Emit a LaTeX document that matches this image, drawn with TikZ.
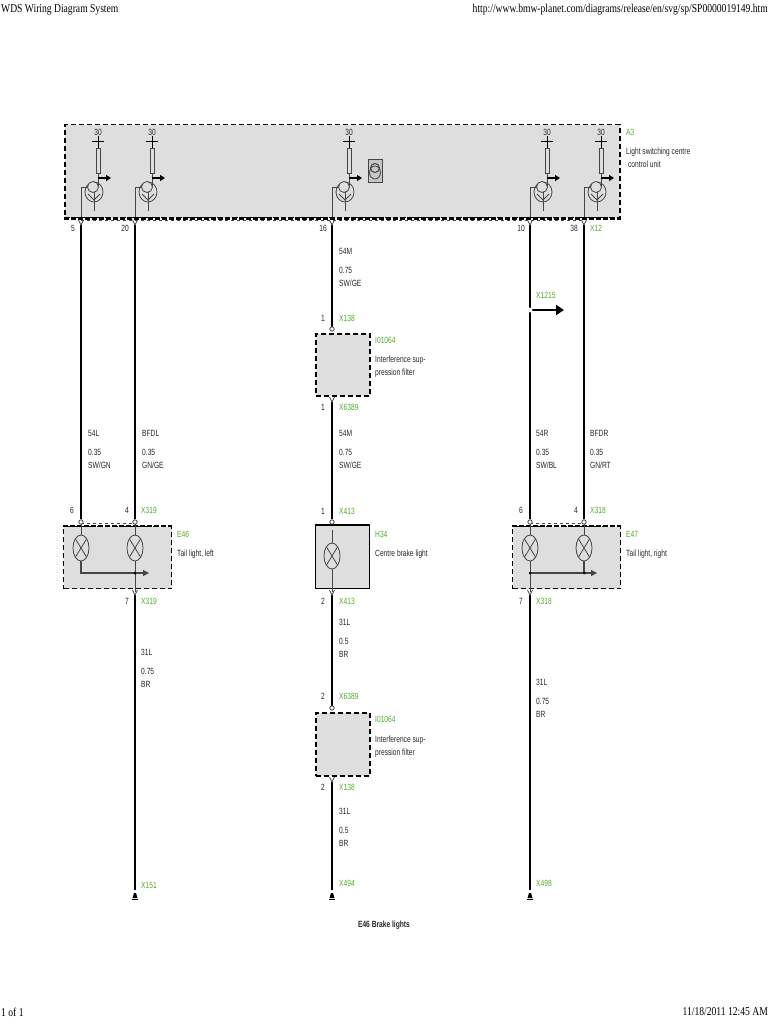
\documentclass[tikz,border=0pt]{standalone}
\usepackage{fontspec}
\setmainfont[FakeStretch=0.74]{Liberation Sans}
\newfontfamily\pagefont[FakeStretch=0.8]{Liberation Serif}
\usetikzlibrary{arrows.meta,calc}
\definecolor{boxgrey}{RGB}{222,222,222}
\definecolor{pingreen}{RGB}{80,170,40}
\definecolor{linegrey}{RGB}{70,70,70}
\tikzset{
  wire/.style={line width=2.2pt,black},
  inner/.style={line width=0.8pt,linegrey},
  lab/.style={font=\fontsize{9}{10}\selectfont,inner sep=0,anchor=west,align=left,text=black!85},
  pinlab/.style={font=\fontsize{9}{10}\selectfont,inner sep=0,text=black!85},
  grn/.style={font=\fontsize{9}{10}\selectfont,inner sep=0,anchor=west,text=pingreen},
  dashbox/.style={fill=boxgrey,draw=black,line width=1.5pt,dash pattern=on 5pt off 3pt},
  pagetxt/.style={font=\pagefont\fontsize{12}{14}\selectfont,inner sep=0,text=black},
  pinv/.style={line width=0.8pt,draw=linegrey,fill=white},
  pics/lamp/.style={code={
    \draw[inner,fill=boxgrey] (0,0) ellipse (8 and 13);
    \draw[inner] (-5.6,-9.2) -- (5.6,9.2) (-5.6,9.2) -- (5.6,-9.2);
  }},
  pics/switch/.style={code={
    % origin is the wire below the box, fuse sits 17 to the right
    \draw[inner,fill=boxgrey] (15.5,-69) rectangle (19,-44);
    \draw[line width=0.9pt] (11,-76) -- (23,-76);
    \draw[line width=0.9pt] (17,-81) -- (17,-69);
    \node[pinlab] at (17,-85) {30};
    \draw[inner] (17,-44) -- (17,-30);
    \draw[line width=1.4pt,-{Triangle[length=5pt,width=6pt]}] (17,-39) -- (30,-39);
    \draw[inner] (13,-25) ellipse (9 and 10);
    \draw[inner,fill=boxgrey] (12,-30) circle (5.5);
    \draw[inner] (0,0) -- (0,-29.5) -- (7,-29.5) (13,-25) -- (13,-6);
    \draw[inner] (7,-23) -- (13,-17) -- (19,-23);
  }}
}
\begin{document}
\begin{tikzpicture}[x=1pt,y=-1pt]
  \useasboundingbox (0,0) rectangle (768,1024);
  \node[pagetxt,anchor=west] (title) at (1,10) {WDS Wiring Diagram System};
  \node[pagetxt,anchor=east] (url) at (768,10) {http://www.bmw-planet.com/diagrams/release/en/svg/sp/SP0000019149.htm};
  \node[pagetxt,anchor=west] (page) at (1,1012) {1 of 1};
  \node[pagetxt,anchor=east] (stamp) at (768,1012) {11/18/2011 12:45 AM};

  % control unit
  \node[dashbox,minimum width=555,minimum height=93,inner sep=0,anchor=north west] (a3) at (64,124) {};
  \draw[line width=2.2pt,dash pattern=on 5pt off 2pt] (a3.south west) -- (a3.south east);
  \draw[line width=0.7pt,linegrey,dashed] (81,220.5) -- (584,220.5);
  \foreach \x in {81,135,332,530,584}
    \draw (\x,217) pic {switch};
  \node[draw=linegrey,fill=black!22,line width=0.8pt,minimum width=14,minimum height=23,inner sep=0] (sensor) at (375,170.5) {};
  \draw[inner,line width=1pt] (sensor.center) ++(0,-2.5) circle (4.5);
  \draw[inner] (sensor.center) ++(0,2) ellipse (5.5 and 6.5);
  \node[grn] (a3t) at (626,132) {A3};
  \node[lab] (a3d) at (626,157.5) {Light switching centre\\[3pt]\ control unit};

  % lamp boxes
  \node[dashbox,line width=1.3pt,minimum width=108,minimum height=62,inner sep=0,anchor=north west] (e46) at (63,526) {};
  \node[dashbox,line width=1.3pt,minimum width=108,minimum height=62,inner sep=0,anchor=north west] (e47) at (512,526) {};
  \draw[line width=2pt,dash pattern=on 5pt off 2pt] (e46.north west) -- (e46.north east);
  \draw[line width=2pt,dash pattern=on 5pt off 2pt] (e47.north west) -- (e47.north east);
  \draw[line width=0.7pt,linegrey,dashed] (81,523) -- (135,523) (530,523) -- (584,523);
  \node[fill=boxgrey,draw=black,line width=1.3pt,minimum width=54,minimum height=63,inner sep=0,anchor=north west] (h34) at (315,525) {};
  \draw[line width=2.6pt] (h34.north west) -- (h34.north east);
  \node[dashbox,minimum width=54,minimum height=62,inner sep=0,anchor=north west] (fa) at (315,333) {};
  \node[dashbox,minimum width=54,minimum height=63,inner sep=0,anchor=north west] (fb) at (315,712) {};

  \coordinate (l1) at (81,548);
  \coordinate (l2) at (135,548);
  \coordinate (l3) at (332,556);
  \coordinate (l4) at (530,548);
  \coordinate (l5) at (584,548);
  \draw[inner] (81,522) -- (l1) (135,522) -- (135,592);
  \draw[inner] (332,530) -- (332,592);
  \draw[inner] (530,522) -- (530,592) (584,522) -- (l5);
  \draw[inner,line width=1.1pt,-{Triangle[length=6pt,width=6pt]}] (l1) -- (81,573) -- (149,573);
  \draw[inner,line width=1.1pt,-{Triangle[length=6pt,width=6pt]}] (l4) ++(0,25) -- (597,573);
  \draw[inner,line width=1.1pt] (l5) -- (584,573);
  \fill (135,573) circle (1.5) (584,573) circle (1.5) (530,573) circle (1.5);
  \path (l1) pic {lamp} (l2) pic {lamp} (l3) pic {lamp} (l4) pic {lamp} (l5) pic {lamp};

  % wires
  \foreach \x/\ya/\yb in {81/225/519,135/225/519,332/225/327,332/402/519,332/595/706,332/782/890,135/595/890,530/225/519,584/225/519,530/595/890}
    \draw[wire] (\x,\ya) -- (\x,\yb);
  % pins
  \foreach \x/\y in {81/222,135/222,332/222,530/222,584/222,135/592,332/592,530/592,332/399,332/779}
    \draw[pinv,fill=none] (\x-2.5,\y-2) -- (\x,\y+3) -- (\x+2.5,\y-2);
  \foreach \x/\y in {81/522,135/522,332/522,530/522,584/522,332/329,332/708}
    \draw[pinv] (\x,\y) circle (2.2);
  % grounds
  \foreach \x in {135,332,530}{
    \fill (\x-2.5,898) -- (\x-1,893) -- (\x+1,893) -- (\x+2.5,898) -- cycle;
    \draw[line width=0.7pt] (\x-3,899) -- (\x+3,899);
  }
  % X1215
  \draw[wire,-{Triangle[length=8pt,width=10pt]}] (530,310) -- (564,310);
  \draw[pinv,line width=0.4pt,draw=white] (530,310) circle (2.2);

  % pin numbers
  \foreach \x/\y/\t in {73/228/5,125/228/20,323/228/16,521/228/10,574/228/38,323/318/1,323/407/1,323/511/1,72/510/6,127/510/4,521/510/6,576/510/4,127/601/7,323/601/2,521/601/7,323/696/2,323/787/2}
    \node[pinlab] at (\x,\y) {\t};
  % connector names
  \foreach \x/\y/\t in {590/228/X12,339/318/X138,339/407/X6389,339/511/X413,141/510/X319,590/510/X318,141/601/X319,339/601/X413,536/601/X318,339/696/X6389,339/787/X138,141/885/X151,339/883/X494,536/883/X498,536/295/X1215}
    \node[grn] at (\x,\y) {\t};
  % device names
  \node[grn] (i1t) at (375,340) {I01064};
  \node[lab] (i1d) at (375,366.5) {Interference sup-\\[3pt]pression filter};
  \node[grn] (i2t) at (375,719) {I01064};
  \node[lab] (i2d) at (375,746.5) {Interference sup-\\[3pt]pression filter};
  \node[grn] (e46t) at (177,534) {E46};
  \node[lab] (e46d) at (177,554) {Tail light, left};
  \node[grn] (h34t) at (375,534) {H34};
  \node[lab] (h34d) at (375,554) {Centre brake light};
  \node[grn] (e47t) at (626,534) {E47};
  \node[lab] (e47d) at (626,554) {Tail light, right};

  % wire data
  \node[lab] (w1) at (88,449) {54L\\[9pt]0.35\\[3pt]SW/GN};
  \node[lab] (w2) at (142,449) {BFDL\\[9pt]0.35\\[3pt]GN/GE};
  \node[lab] (w3) at (339,267) {54M\\[9pt]0.75\\[3pt]SW/GE};
  \node[lab] (w4) at (339,449) {54M\\[9pt]0.75\\[3pt]SW/GE};
  \node[lab] (w5) at (536,449) {54R\\[9pt]0.35\\[3pt]SW/BL};
  \node[lab] (w6) at (590,449) {BFDR\\[9pt]0.35\\[3pt]GN/RT};
  \node[lab] (w7) at (141,668) {31L\\[9pt]0.75\\[3pt]BR};
  \node[lab] (w8) at (339,638) {31L\\[9pt]0.5\\[3pt]BR};
  \node[lab] (w9) at (339,827) {31L\\[9pt]0.5\\[3pt]BR};
  \node[lab] (w10) at (536,698) {31L\\[9pt]0.75\\[3pt]BR};

  \node[lab,anchor=center,font=\fontsize{9}{10}\selectfont\bfseries] (cap) at (384,925) {E46 Brake lights};
\end{tikzpicture}
\end{document}
